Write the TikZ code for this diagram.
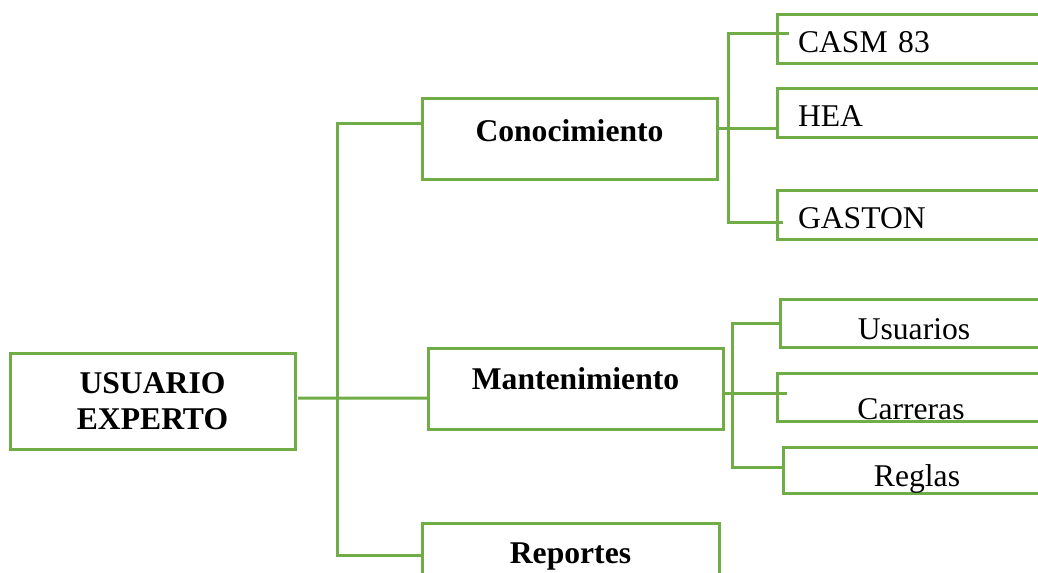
\documentclass[tikz,border=0pt]{standalone}
\usepackage{fontspec}
\setmainfont{Liberation Serif}
\usepackage{xcolor}
\definecolor{verde}{RGB}{112,173,71}

\begin{document}
\begin{tikzpicture}
	[   x=0.2mm, y=-0.2mm,
	    bnode/.style={draw=verde,line width=0.6mm,inner sep=0pt,outer sep=0pt,anchor=north west,font=\fontsize{18}{20.5}\selectfont#1},
	]
	\tikzset{normal line/.style={draw=verde,line width=0.6mm}}
	\useasboundingbox (0,0) rectangle (1038,572);
	\clip (0,0) rectangle (1038,572);
	
	\node[bnode=\bfseries,minimum width=57mm,minimum height=19.2mm,align=center] (experto) at (10,353) {USUARIO\\EXPERTO};
	\node[bnode=\bfseries,minimum width=59mm,text height=8.6mm,text depth=7.6mm] (conoc) at (422,98) {Conocimiento};
	\node[bnode=\bfseries,minimum width=59mm,text height=8.2mm,text depth=8mm] (mant) at (428,348) {Mantenimiento};
	\node[bnode=\bfseries,minimum width=59.4mm,text height=8mm,text depth=8mm] (report) at (422,523) {Reportes};
	
	\foreach \nom/\y/\txt in {casm/14/CASM 83,hea/88/HEA,gaston/190/GASTON}
		\node[bnode,inner xsep=4.2mm,text width=46.2mm,align=left,text height=7.7mm,text depth=2.1mm] (\nom) at (777,\y) {\txt};
	
	\foreach \nom/\x/\y/\th/\td/\txt in {usuarios/780/299/8mm/1.6mm/Usuarios,carreras/777/373/9.2mm/0.4mm/Carreras,reglas/783/447/7.8mm/1.4mm/Reglas}
		\node[bnode,minimum width=53.6mm,text height=\th,text depth=\td] (\nom) at (\x,\y) {\txt};
	
	\coordinate (trunk) at (337,398);
	\coordinate (cbus) at (728,128);
	\coordinate (mbus) at (732,393);
	
	\path[normal line] ([shift={(3,-3)}]experto.east) -- (trunk) -- (trunk -| mant.west);
	\path[normal line] ([shift={(0,25)}]conoc.north west) -| (trunk) |- ([shift={(0,32)}]report.north west);
	\path[normal line] ([shift={(0,30)}]conoc.north east) -- (cbus) -- (cbus -| hea.west);
	\path[normal line] ([shift={(12,19)}]casm.north west) -| (cbus) |- ([shift={(6,32)}]gaston.north west);
	\path[normal line] ([shift={(0,45)}]mant.north east) -- (mbus) -- ([shift={(10,20)}]carreras.north west);
	\path[normal line] (usuarios.west) -| (mbus) |- ([shift={(0,20)}]reglas.north west);
\end{tikzpicture}
\end{document}
